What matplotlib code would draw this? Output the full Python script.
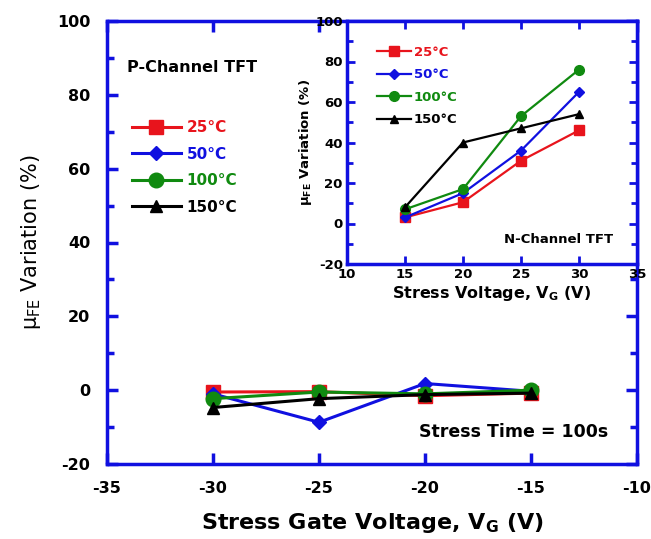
import matplotlib
matplotlib.use("Agg")
import matplotlib.pyplot as plt
from matplotlib.ticker import MultipleLocator

plt.rcParams['font.family'] = ['DejaVu Sans']
plt.rcParams['font.weight'] = 'bold'
plt.rcParams['axes.unicode_minus'] = False
plt.rcParams['mathtext.fontset'] = 'custom'
plt.rcParams['mathtext.rm'] = 'DejaVu Sans:bold'
plt.rcParams['mathtext.bf'] = 'DejaVu Sans:bold'

# Main (P-channel) data
p_vg = [-30, -25, -20, -15]
p_25 = [-0.5, -0.4, -1.5, -0.8]
p_50 = [-1.0, -8.7, 1.8, -0.3]
p_100 = [-2.3, -0.5, -1.0, 0.0]
p_150 = [-4.7, -2.3, -1.2, -0.8]

# Inset (N-channel) data
n_vg = [15, 20, 25, 30]
n_25 = [3, 10.5, 31, 46]
n_50 = [3, 15, 36, 65]
n_100 = [7, 17, 53, 76]
n_150 = [8, 40, 47, 54]

labels = ['25°C', '50°C', '100°C', '150°C']
colors = ['#e8141c', '#1010e0', '#108a10', '#000000']
markers = ['s', 'D', 'o', '^']
BLUE = '#1010e0'

fig = plt.figure(figsize=(6.51, 5.39), dpi=100)
W, H = 651, 539

def pos(l, t, r, b):
    return [l / W, 1 - b / H, (r - l) / W, (b - t) / H]

ax = fig.add_axes(pos(107, 21, 637, 464))
msz_main = [10.5, 7.5, 10.5, 8.5]
for y, c, m, lab, ms in zip([p_25, p_50, p_100, p_150], colors, markers, labels, msz_main):
    ax.plot(p_vg, y, color=c, marker=m, markersize=ms, lw=2.2, label=lab)
ax.set_xlim(-35, -10)
ax.set_ylim(-20, 100)
ax.xaxis.set_major_locator(MultipleLocator(5))
ax.yaxis.set_major_locator(MultipleLocator(20))
ax.yaxis.set_minor_locator(MultipleLocator(10))
for s in ax.spines.values():
    s.set_color(BLUE)
    s.set_linewidth(2.5)
ax.tick_params(which='both', direction='in', top=True, right=True, color=BLUE,
               labelsize=11.5, width=2.5)
ax.tick_params(axis='x', pad=12)
ax.tick_params(axis='y', pad=12)
ax.tick_params(which='major', length=8)
ax.tick_params(which='minor', length=5)
ax.set_xlabel(r'Stress Gate Voltage, V$_{\mathregular{G}}$ (V)', fontsize=16,
              fontweight='bold', labelpad=11)
ax.set_ylabel(r'$\mathregular{\mu_{FE}}$ Variation (%)', fontsize=15,
              fontweight='normal', labelpad=10)
ax.text(0.037, 0.885, 'P-Channel TFT', transform=ax.transAxes, fontsize=11.5, fontweight='bold')
ax.text(0.588, 0.06, 'Stress Time = 100s', transform=ax.transAxes, fontsize=12.5, fontweight='bold')
leg = ax.legend(loc='upper left', bbox_to_anchor=(0.035, 0.79), frameon=False, fontsize=11,
                handlelength=3.2, labelspacing=0.75, borderaxespad=0, handletextpad=0.4)
for t, c in zip(leg.get_texts(), colors):
    t.set_color(c)
    t.set_fontweight('bold')

# Inset
ins = fig.add_axes(pos(347, 21, 637, 264))
msz_in = [7, 5, 7, 6]
for y, c, m, lab, ms in zip([n_25, n_50, n_100, n_150], colors, markers, labels, msz_in):
    ins.plot(n_vg, y, color=c, marker=m, markersize=ms, lw=1.6, label=lab)
ins.set_xlim(10, 35)
ins.set_ylim(-20, 100)
ins.xaxis.set_major_locator(MultipleLocator(5))
ins.yaxis.set_major_locator(MultipleLocator(20))
ins.yaxis.set_minor_locator(MultipleLocator(10))
for s in ins.spines.values():
    s.set_color(BLUE)
    s.set_linewidth(2.5)
ins.tick_params(which='both', direction='in', top=True, right=True, color=BLUE,
                labelsize=9.5, width=2, pad=3)
ins.tick_params(which='major', length=6)
ins.tick_params(which='minor', length=4)
ins.set_xlabel(r'Stress Voltage, V$_{\mathregular{G}}$ (V)', fontsize=11.5, fontweight='bold', labelpad=2)
ins.set_ylabel(r'$\mathregular{\mu_{FE}}$ Variation (%)', fontsize=9.5, fontweight='bold', labelpad=1)
ins.text(0.54, 0.10, 'N-Channel TFT', transform=ins.transAxes, fontsize=9.5, fontweight='bold',
         va='center')
leg2 = ins.legend(loc='upper left', bbox_to_anchor=(0.085, 0.92), frameon=False, fontsize=9.5,
                  handlelength=2.6, labelspacing=0.72, borderaxespad=0, handletextpad=0.2)
for t, c in zip(leg2.get_texts(), colors):
    t.set_color(c)
    t.set_fontweight('bold')

fig.savefig('out.png', dpi=100)
